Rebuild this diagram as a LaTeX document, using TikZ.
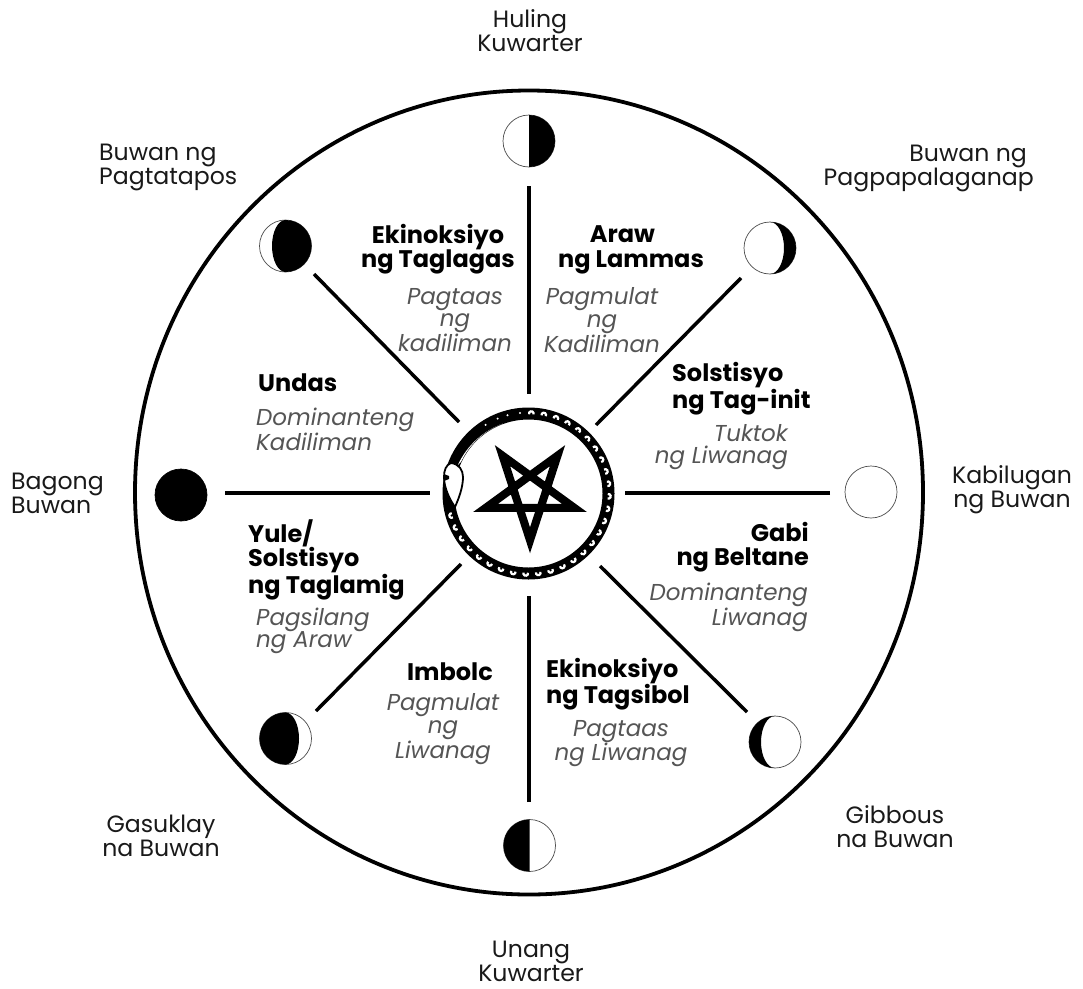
\documentclass[tikz,border=0pt]{standalone}
\usepackage{fontspec}
\setmainfont{Poppins}
\definecolor{emgray}{HTML}{555555}
\tikzset{
  lab/.style={inner sep=0pt,font=\fontsize{23.6}{24}\selectfont,align=center,text=black!90},
  labl/.style={lab,align=left,anchor=west},
  labr/.style={lab,align=right,anchor=east},
  hd/.style={inner sep=0pt,font=\fontsize{24}{24.5}\selectfont\bfseries,align=center},
  hdl/.style={hd,align=left,anchor=west},
  hdr/.style={hd,align=right,anchor=east},
  em/.style={inner sep=0pt,font=\fontsize{23}{22.5}\selectfont\itshape,align=center,text=emgray},
  eml/.style={em,align=left,anchor=west},
  emr/.style={em,align=right,anchor=east},
  moon/.style={circle,draw=black!70,line width=0.7pt,minimum size=52pt,inner sep=0pt,fill=white},
  spoke/.style={line width=3.5pt,black},
  scalemark/.style={white,line width=2.2pt},
}
\begin{document}
\begin{tikzpicture}[x=1pt,y=-1pt]
\useasboundingbox (0,0) rectangle (1083,988);
\fill[white] (0,0) rectangle (1083,988);
\draw[line width=3.8pt] (529,492.5) ellipse[x radius=394,y radius=402];
% moons
\node[moon] (mT) at (529,141) {};
\node[moon] (mB) at (529.5,845.5) {};
\node[moon,fill=black,draw=black] (mL) at (181,495) {};
\node[moon] (mR) at (871,492) {};
\node[moon] (mUL) at (285.5,246) {};
\node[moon] (mUR) at (770,248) {};
\node[moon] (mLL) at (285.5,738.5) {};
\node[moon] (mLR) at (775,742) {};
\fill[shift={(mT.center)}] (0,-26) arc[start angle=-90,end angle=90,radius=26] -- cycle;
\fill[shift={(mB.center)}] (0,-26) arc[start angle=-90,end angle=-270,radius=26] -- cycle;
\fill[shift={(mUL.center)}] (0,-26) arc[start angle=-90,end angle=90,radius=26] arc[start angle=90,end angle=270,x radius=13.5,y radius=26] -- cycle;
\fill[shift={(mUR.center)}] (0,-26) arc[start angle=-90,end angle=90,radius=26] arc[start angle=90,end angle=-90,x radius=14,y radius=26] -- cycle;
\fill[shift={(mLL.center)}] (0,-26) arc[start angle=-90,end angle=-270,radius=26] arc[start angle=90,end angle=-90,x radius=13.5,y radius=26] -- cycle;
\fill[shift={(mLR.center)}] (0,-26) arc[start angle=-90,end angle=-270,radius=26] arc[start angle=90,end angle=270,x radius=14,y radius=26] -- cycle;
% spoke ends
\coordinate (sT1) at (529,186); \coordinate (sT2) at (529,394);
\coordinate (sB1) at (529,802); \coordinate (sB2) at (529,596);
\coordinate (sL1) at (225,493); \coordinate (sL2) at (430,493);
\coordinate (sR1) at (830,493); \coordinate (sR2) at (625,493);
\coordinate (sUL1) at (314,274); \coordinate (sUL2) at (459,422);
\coordinate (sUR1) at (741,278); \coordinate (sUR2) at (596,425);
\coordinate (sLR1) at (747,712); \coordinate (sLR2) at (600,566);
\coordinate (sLL1) at (316,711); \coordinate (sLL2) at (461,564);
\foreach \p in {T,B,L,R,UL,UR,LR,LL}{\draw[spoke] (s\p1) -- (s\p2);}
% ouroboros
\begin{scope}[shift={(528.5,493.5)}]
\fill[black,even odd rule] (0,0) circle[radius=86] (0,0) circle[radius=74];
\foreach \a in {272,281,...,524}{
  \draw[scalemark] (\a:80) ++(\a-110:2.3) arc[start angle=\a-110,delta angle=220,radius=2.3];
}
\foreach \a in {238,247.6,255,264}{\fill[white] (\a:81) circle[radius=1.1];}
% tapering of the tail towards the head
\fill[white] (205:74.5) arc[start angle=205,end angle=250,radius=74.5] arc[start angle=250,end angle=205,x radius=80,y radius=80] -- cycle;
\end{scope}
\filldraw[fill=white,draw=black,line width=1.8pt] (451,463) .. controls (446,465) and (444,470) .. (444,477) .. controls (444,488) and (450,500) .. (455,507) .. controls (459,498) and (463,487) .. (463,477) .. controls (463,470) and (459,464) .. (451,463) -- cycle;
\fill (444,474) -- (449,476) -- (449,479) -- (444,481) -- cycle;
% pentagram
\draw[line width=8pt,line join=miter,miter limit=12,shift={(530,493.5)}] (90:46.8) -- (234:46.8) -- (18:46.8) -- (162:46.8) -- (306:46.8) -- cycle;
% outer labels
\node[lab] (tT) at (530,31) {Huling\\Kuwarter};
\node[lab] (tB) at (531,961) {Unang\\Kuwarter};
\node[labl] (tUL) at (99,167) {Buwan ng\\Pagtatapos};
\node[labr] (tUR) at (1034,168.5) {Buwan ng\hspace*{7pt}\\Pagpapalaganap};
\node[lab] (tR) at (1012,490) {Kabilugan\\ng Buwan};
\node[labl] (tL) at (11,493) {Bagong\\Buwan};
\node[lab] (tLR) at (895,827) {Gibbous\\na Buwan};
\node[lab] (tLL) at (161,836) {Gasuklay\\na Buwan};
% inner labels
\node[hd] (h1) at (438,249) {Ekinoksiyo\\ng Taglagas};
\node[hd] (h2) at (631,250) {Araw\hspace*{17pt}\\ng Lammas};
\node[hdl] (h3) at (672,388.5) {Solstisyo\\ng Tag-init};
\node[hdl] (h4) at (258,383) {Undas};
\node[hdl] (h5) at (248,559.5) {Yule/\\Solstisyo\\ng Taglamig};
\node[hdr] (h6) at (809,547) {Gabi\\ng Beltane};
\node[hd] (h7) at (450,672) {Imbolc};
\node[hdl] (h8) at (546,684) {Ekinoksiyo\\ng Tagsibol};
\node[em] (e1) at (455,320) {Pagtaas\\ng\\kadiliman};
\node[em] (e2) at (602,320) {Pagmulat\\ng\\Kadiliman};
\node[emr] (e3) at (788,447) {Tuktok\\ng Liwanag};
\node[eml] (e4) at (256,429) {Dominanteng\\Kadiliman};
\node[eml] (e5) at (256,631) {Pagsilang\\ng Araw};
\node[emr] (e6) at (808,607) {Dominanteng\\Liwanag};
\node[em] (e7) at (443,729) {Pagmulat\\ng\\Liwanag};
\node[em] (e8) at (621,743.5) {Pagtaas\\ng Liwanag};
\end{tikzpicture}
\end{document}
